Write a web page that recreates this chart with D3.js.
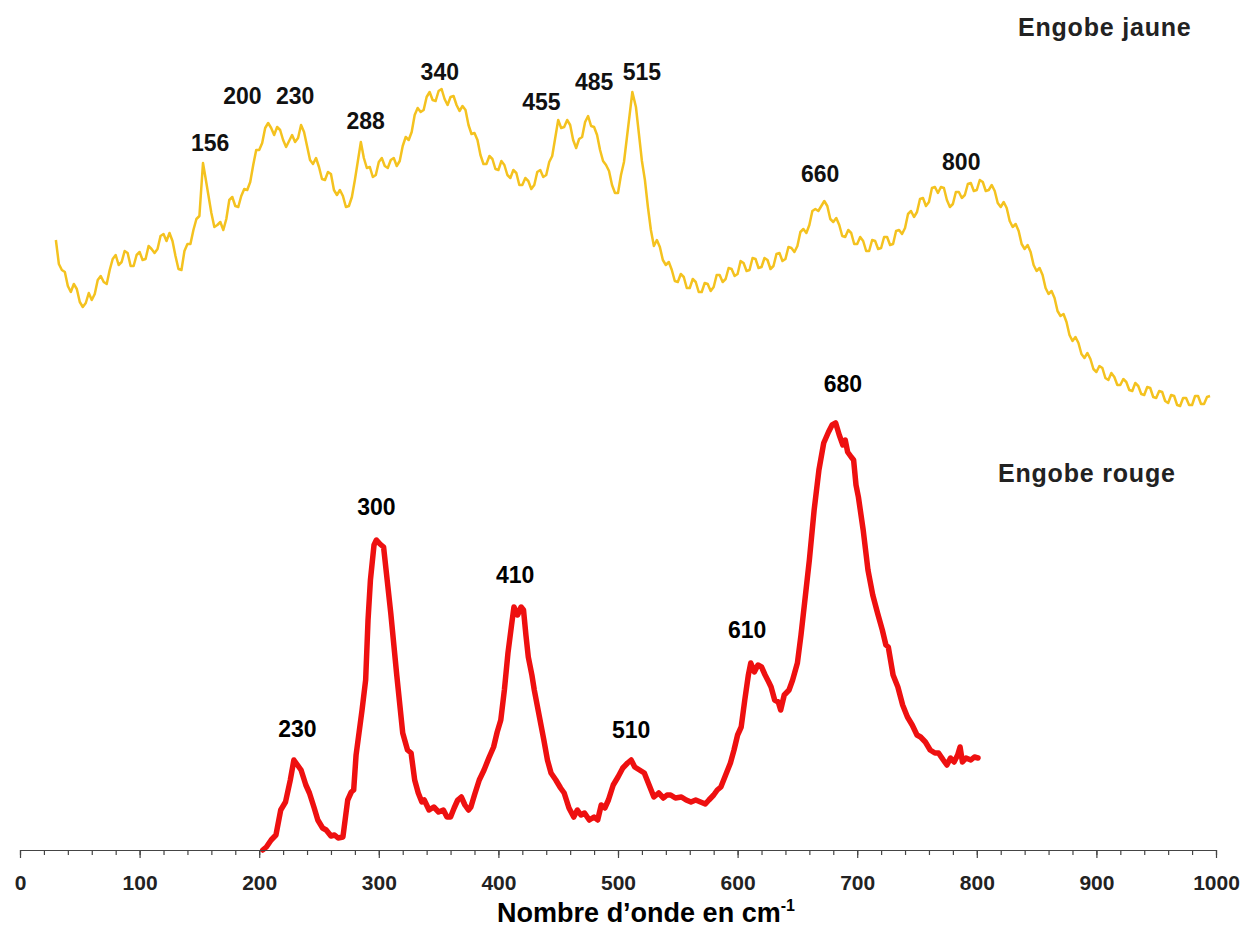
<!DOCTYPE html>
<html><head><meta charset="utf-8">
<script src="https://cdn.jsdelivr.net/npm/d3@7"></script>
<style>
html,body{margin:0;padding:0;background:#fff;}
svg{display:block;font-family:"Liberation Sans",Arial,Helvetica,sans-serif;}
</style></head>
<body>
<svg id="chart" width="1253" height="928"></svg>
<script>
// Wavenumbers (cm-1) and intensities (arbitrary units)
const jauneWn = [30,32.5,35,37.5,40,42.5,45,47.5,50,52.5,55,57.5,60,62.5,65,67.5,70,72.5,75,77.5,80,82.5,85,87.5,90,92.5,95,97.5,100,102.5,105,107.5,110,112.5,115,117.5,120,122.5,125,127.5,130,132.5,135,137.5,140,142.5,145,147.5,150,153,155,157.5,160,162.5,165,167.5,170,172.5,175,177.5,180,182.5,185,187.5,190,192.5,195,197.5,200,202.5,205,207.5,210,212.5,215,217.5,220,222.5,225,227.5,230,232.5,235,237.5,240,242.5,245,247.5,250,252.5,255,257.5,260,262.5,265,267.5,270,272.5,275,277.5,280,282.5,285,287.5,290,292.5,295,297.5,300,302.5,305,307.5,310,312.5,315,317.5,320,322.5,325,327.5,330,332.5,335,337.5,340,342.5,345,347.5,350,352.5,355,357.5,360,362.5,365,367.5,370,372.5,375,377.5,380,382.5,385,387.5,390,392.5,395,397.5,400,402.5,405,407.5,410,412.5,415,417.5,420,422.5,425,427.5,430,432.5,435,437.5,440,442.5,445,447.5,450,452.5,455,457.5,460,462.5,465,467.5,470,472.5,475,477.5,480,482.5,485,487.5,490,492.5,495,497.5,500,502.5,505,507.5,510,512,515,517.5,520,522.5,525,527.5,530,532.5,535,537.5,540,542.5,545,547.5,550,552.5,555,557.5,560,562.5,565,567.5,570,572.5,575,577.5,580,582.5,585,587.5,590,592.5,595,597.5,600,602.5,605,607.5,610,612.5,615,617.5,620,622.5,625,627.5,630,632.5,635,637.5,640,642.5,645,647.5,650,652.5,655,657.5,660,662.5,665,667.5,670,672.5,675,677.5,680,682.5,685,687.5,690,692.5,695,697.5,700,702.5,705,707.5,710,712.5,715,717.5,720,722.5,725,727.5,730,732.5,735,737.5,740,742.5,745,747.5,750,752.5,755,757.5,760,762.5,765,767.5,770,772.5,775,777.5,780,782.5,785,787.5,790,792.5,795,797.5,800,802.5,805,807.5,810,812.5,815,817.5,820,822.5,825,827.5,830,832.5,835,837.5,840,842.5,845,847.5,850,852.5,855,857.5,860,862.5,865,867.5,870,872.5,875,877.5,880,882.5,885,887.5,890,892.5,895,897.5,900,902.5,905,907.5,910,912.5,915,917.5,920,922.5,925,927.5,930,932.5,935,937.5,940,942.5,945,947.5,950,952.5,955,957.5,960,962.5,965,967.5,970,972.5,975,977.5,980,982.5,985,987.5,990,992.5,995];
const jauneInt = [610,586,580,578,564,558,566,561,548,543,547,557,550,556,570,574,568,566,580,591,595,585,588,599,597,584,584,595,598,590,591,604,601,597,601,614,616,609,617,609,594,581,580,599,606,606,620,631,634,687,673,655,637,623,625,628,620,631,650,653,644,643,654,661,660,668,685,700,700,707,722,727,722,715,723,720,710,703,709,715,708,712,725,718,704,690,686,692,683,671,670,678,676,660,655,660,654,643,644,653,670,689,708,692,682,683,673,675,688,692,684,682,690,692,684,689,704,713,710,718,735,742,738,740,753,758,750,749,759,761,751,745,753,754,745,739,744,740,725,716,717,710,695,686,686,694,691,681,680,689,685,675,672,680,677,665,665,672,669,661,665,678,680,673,675,688,694,712,730,722,723,730,725,710,702,711,713,728,734,724,723,715,700,689,685,679,665,657,657,675,688,713,738,758,743,716,689,670,643,620,604,610,603,590,585,588,580,569,568,576,573,562,562,571,568,558,558,567,566,559,563,575,575,568,571,582,581,574,576,589,587,579,580,592,591,582,583,592,590,581,584,596,597,589,591,603,602,598,604,618,621,617,625,639,641,639,644,649,644,631,628,632,625,614,613,620,617,606,606,613,609,599,599,610,609,601,602,613,613,605,606,619,620,616,622,636,639,633,638,651,652,644,648,662,663,657,663,662,650,643,646,658,658,652,655,666,667,659,660,670,668,659,660,665,659,647,643,648,642,629,623,626,619,606,601,605,598,585,579,582,575,562,556,559,552,539,534,536,528,515,509,513,507,496,492,497,491,481,478,484,482,472,470,477,473,465,465,471,468,460,459,467,464,456,455,463,462,453,452,459,458,449,447,455,454,445,444,452,452,445,445,454,454,446,446,453,454];

const rougeWn = [203,206,210,214,218,222,226,229,232,235,239,242,246,249,253,256,260,263,266,270,274,277,279,281,283,286,289,291,293,296,298,301,304,307,310,315,320,324,327,330,333,336,338,342,346,350,354,357,360,363,366,369,372,375,377,380,384,388,392,396,399,402,405,408,411,413,416,419,421,423,425,428,430,434,438,441,444,448,452,455,459,463,466,469,472,476,480,483,486,489,492,496,500,504,508,511,514,518,522,526,530,534,538,541,544,548,553,557,561,565,569,573,576,580,583,586,590,594,597,600,603,606,609,611,614,617,620,623,626,628,631,634,636,639,643,646,650,653,656,660,664,668,672,676,679,682,685,688,690,692,695,697,699,701,705,709,713,717,721,724,726,730,734,738,742,746,750,753,757,761,765,768,772,775,778,781,784,786,788,791,795,798,801];
const rougeInt = [0,3,10,15,40,48,70,90,85,80,65,57,42,30,22,20,14,15,12,13,50,58,60,95,113,140,170,230,270,305,310,306,303,270,237,175,117,100,97,70,57,48,50,40,43,38,40,33,33,42,50,53,45,40,43,55,70,80,92,103,118,130,160,197,225,243,235,243,240,215,193,175,160,135,110,90,77,70,62,57,42,33,40,35,37,30,33,30,45,42,50,65,73,82,87,90,83,80,77,65,53,57,52,55,55,52,53,50,48,50,48,46,50,55,60,63,75,87,100,115,123,150,175,187,178,185,183,175,168,163,150,148,140,155,160,170,187,215,247,290,340,380,407,418,425,427,415,405,410,398,393,390,365,353,320,280,255,237,220,205,203,175,163,145,133,125,115,113,108,100,97,97,90,85,92,88,95,103,88,92,90,93,92];

// Peak labels: text, wavenumber, intensity
const jauneLabels = ["156","200","230","288","340","455","485","515","660","800"];
const jauneLabelWn = [159,186,230,289,351,436,480,520,669,787];
const jauneLabelInt = [707,754,754,729,778,748,768,778,676,688];
const rougeLabels = ["230","300","410","510","610","680"];
const rougeLabelWn = [232,298,414,511,608,688];
const rougeLabelInt = [121,343,275,120,220,466];
const seriesNames = ["Engobe jaune","Engobe rouge"];
const seriesNameWn = [907,892];
const seriesNameInt = [823,377];

const minorTicks = d3.range(0, 1001, 20);
const majorTicks = d3.range(0, 1001, 100);

const svg = d3.select("#chart");
const x = d3.scaleLinear().domain([0, 1000]).range([20, 1216]);
const y = d3.scaleLinear().domain([0, 850]).range([850, 0]);

const line = d3.line().x(d => x(d[0])).y(d => y(d[1]));

svg.append("path")
  .datum(d3.zip(jauneWn, jauneInt))
  .attr("fill","none").attr("stroke","#f4c21f").attr("stroke-width",2.5)
  .attr("stroke-linejoin","round").attr("d", line);

svg.append("path")
  .datum(d3.zip(rougeWn, rougeInt))
  .attr("fill","none").attr("stroke","#ee1010").attr("stroke-width",5.5)
  .attr("stroke-linejoin","round").attr("stroke-linecap","round").attr("d", line);

// axis
const gMinor = svg.append("g").attr("transform", `translate(0,${y(0)})`)
  .call(d3.axisBottom(x).tickValues(minorTicks).tickSize(5).tickSizeOuter(0).tickFormat(""));
const gMajor = svg.append("g").attr("transform", `translate(0,${y(0)})`)
  .call(d3.axisBottom(x).tickValues(majorTicks).tickSize(8).tickSizeOuter(0).tickPadding(17).tickFormat(d3.format("d")));
[gMinor, gMajor].forEach(g => {
  g.select(".domain").attr("stroke","#444").attr("stroke-width",1.2);
  g.selectAll(".tick line").attr("stroke","#444").attr("stroke-width",1.2);
});
gMajor.selectAll(".tick text").attr("fill","#222").attr("font-size",21).attr("font-weight","bold")
  .attr("font-family","'Liberation Sans',Arial,sans-serif");

// axis title
const title = svg.append("text").attr("x", 646).attr("y", 922).attr("text-anchor","middle")
  .attr("font-size",27).attr("font-weight","bold").attr("fill","#000");
title.append("tspan").text("Nombre d\u2019onde en cm");
title.append("tspan").attr("dy",-11).attr("font-size",16).text("-1");

// labels
function addLabels(texts, wns, ints, size, color, spacing){
  svg.append("g").selectAll("text").data(texts).join("text")
    .attr("x",(d,i)=>x(wns[i])).attr("y",(d,i)=>y(ints[i])).attr("dy","0.36em")
    .attr("text-anchor","middle").attr("font-size",size).attr("font-weight","bold")
    .attr("letter-spacing",spacing).attr("fill",color).text(d=>d);
}
addLabels(jauneLabels, jauneLabelWn, jauneLabelInt, 23, "#111", 0);
addLabels(rougeLabels, rougeLabelWn, rougeLabelInt, 23, "#000", 0);
addLabels(seriesNames, seriesNameWn, seriesNameInt, 25, "#222", 0.8);
</script>
</body></html>
